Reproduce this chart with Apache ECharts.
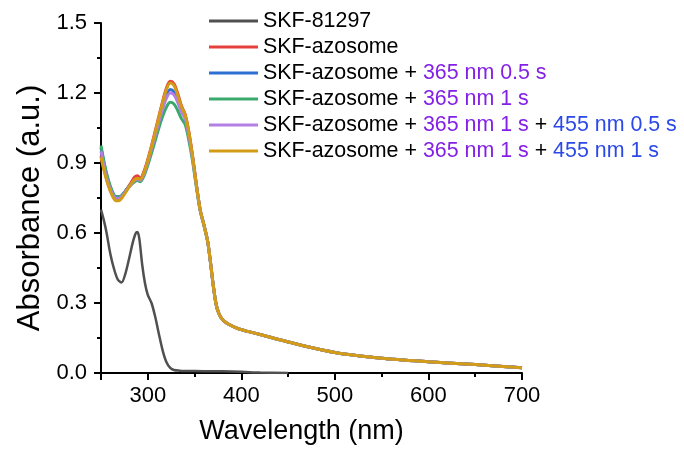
<!DOCTYPE html>
<html>
<head>
<meta charset="utf-8">
<script src="https://cdn.jsdelivr.net/npm/echarts@6/dist/echarts.min.js"></script>
<style>
  html, body { margin: 0; padding: 0; background: #fff; }
  #chart { width: 684px; height: 450px; }
</style>
</head>
<body>
<div id="chart"></div>
<script>
// UV-Vis absorbance spectra (wavelength in nm)
const wlDrug = [250, 253, 256, 260, 264, 268, 272, 276, 280, 284, 287, 289, 291, 294, 297, 300, 304, 308, 312, 316, 320, 324, 328, 334, 340, 360, 380, 400, 420, 450];
const absDrug = [0.70, 0.655, 0.60, 0.51, 0.445, 0.40, 0.388, 0.425, 0.49, 0.56, 0.598, 0.604, 0.575, 0.465, 0.385, 0.335, 0.30, 0.24, 0.165, 0.095, 0.046, 0.022, 0.013, 0.010, 0.009, 0.008, 0.007, 0.005, 0.002, 0.0];

const wlAzo = [250, 254, 258, 262, 266, 270, 274, 278, 282, 286, 289, 292, 296, 300, 305, 310, 315, 320, 324, 328, 332, 336, 340, 344, 348, 352, 356, 360, 364, 367, 370, 373, 376, 380, 385, 390, 400, 420, 450, 500, 550, 600, 650, 700];

const absAzo = [0.93, 0.86, 0.805, 0.765, 0.745, 0.745, 0.765, 0.79, 0.815, 0.84, 0.845, 0.835, 0.865, 0.915, 0.99, 1.07, 1.15, 1.222, 1.25, 1.24, 1.198, 1.145, 1.108, 1.032, 0.927, 0.806, 0.70, 0.635, 0.565, 0.475, 0.375, 0.295, 0.255, 0.228, 0.212, 0.202, 0.186, 0.165, 0.133, 0.088, 0.063, 0.048, 0.036, 0.022];

const absUv05 = [0.965, 0.885, 0.82, 0.775, 0.755, 0.755, 0.77, 0.79, 0.81, 0.825, 0.83, 0.825, 0.855, 0.905, 0.975, 1.05, 1.125, 1.19, 1.215, 1.205, 1.17, 1.125, 1.095, 1.02, 0.92, 0.805, 0.70, 0.635, 0.565, 0.475, 0.375, 0.295, 0.255, 0.228, 0.212, 0.202, 0.186, 0.165, 0.133, 0.088, 0.063, 0.048, 0.036, 0.022];

const absUv1 = [0.975, 0.89, 0.825, 0.78, 0.755, 0.755, 0.768, 0.788, 0.806, 0.82, 0.825, 0.82, 0.845, 0.89, 0.955, 1.025, 1.09, 1.14, 1.16, 1.153, 1.125, 1.09, 1.065, 0.995, 0.905, 0.795, 0.695, 0.633, 0.563, 0.474, 0.375, 0.295, 0.255, 0.228, 0.212, 0.202, 0.186, 0.165, 0.133, 0.088, 0.063, 0.048, 0.036, 0.022];

const absVis05 = [0.95, 0.87, 0.81, 0.77, 0.748, 0.75, 0.765, 0.787, 0.808, 0.826, 0.83, 0.826, 0.855, 0.903, 0.975, 1.048, 1.12, 1.178, 1.20, 1.192, 1.16, 1.118, 1.09, 1.015, 0.917, 0.803, 0.70, 0.635, 0.565, 0.475, 0.375, 0.295, 0.255, 0.228, 0.212, 0.202, 0.186, 0.165, 0.133, 0.088, 0.063, 0.048, 0.036, 0.022];

const absVis1 = [0.925, 0.855, 0.80, 0.76, 0.738, 0.74, 0.76, 0.785, 0.81, 0.83, 0.835, 0.83, 0.86, 0.91, 0.985, 1.065, 1.145, 1.215, 1.243, 1.232, 1.19, 1.14, 1.105, 1.03, 0.925, 0.805, 0.70, 0.635, 0.565, 0.475, 0.375, 0.295, 0.255, 0.228, 0.212, 0.202, 0.186, 0.165, 0.133, 0.088, 0.063, 0.048, 0.036, 0.022];

const seriesNames = [
  'SKF-81297',
  'SKF-azosome',
  'SKF-azosome + 365 nm 0.5 s',
  'SKF-azosome + 365 nm 1 s',
  'SKF-azosome + 365 nm 1 s + 455 nm 0.5 s',
  'SKF-azosome + 365 nm 1 s + 455 nm 1 s'
];
const seriesColors = ['#505050', '#e5403c', '#2e6fd4', '#3aa96c', '#b47fe4', '#d39c17'];

const FONT = '"Liberation Sans", Arial, Helvetica, sans-serif';

function pairs(xs, ys) {
  return xs.map((x, i) => [x, ys[i]]);
}

// legend labels: light doses in purple (365 nm) and blue (455 nm)
const LEG_FS = 21.4;
const legendRich = {
  k: { color: '#000000', fontSize: LEG_FS, fontFamily: FONT, lineHeight: 22 },
  p: { color: '#8420e6', fontSize: LEG_FS, fontFamily: FONT, lineHeight: 22 },
  b: { color: '#2b48e8', fontSize: LEG_FS, fontFamily: FONT, lineHeight: 22 }
};
function legendLabel(name) {
  const m = name.match(/^(.*?)( \+ )?(365 nm [^+]*?)?( \+ )?(455 nm .*)?$/);
  if (!m || !m[3]) return '{k|' + name + '}';
  let s = '{k|' + m[1] + ' + }{p|' + m[3] + '}';
  if (m[5]) s += '{k| + }{b|' + m[5] + '}';
  return s;
}

const ySets = [absDrug, absAzo, absUv05, absUv1, absVis05, absVis1];
const series = seriesNames.map((name, i) => ({
  name: name,
  type: 'line',
  xAxisIndex: 0,
  data: pairs(i === 0 ? wlDrug : wlAzo, ySets[i]),
  showSymbol: false,
  symbol: 'none',
  smooth: 0.3,
  lineStyle: { width: i === 0 ? 2.5 : 3, color: seriesColors[i] },
  itemStyle: { color: seriesColors[i] },
  animation: false
}));

const chart = echarts.init(document.getElementById('chart'), null, { renderer: 'canvas' });
chart.setOption({
  backgroundColor: '#ffffff',
  animation: false,
  grid: { left: 101, right: 162, top: 23, bottom: 76.5, containLabel: false },
  legend: {
    orient: 'vertical',
    left: 209,
    top: 10,
    padding: 0,
    itemGap: 4,
    itemWidth: 49,
    itemHeight: 3,
    icon: 'rect',
    data: seriesNames,
    formatter: legendLabel,
    textStyle: { fontSize: LEG_FS, fontFamily: FONT, color: '#000', lineHeight: 22, rich: legendRich }
  },
  xAxis: [
    {
      type: 'value',
      min: 250,
      max: 700,
      interval: 50,
      position: 'bottom',
      name: 'Wavelength (nm)',
      nameLocation: 'middle',
      nameGap: 45,
      nameTextStyle: { fontSize: 27, fontFamily: FONT, color: '#000', padding: [0, 20, 0, 0] },
      axisLine: { show: true, lineStyle: { color: '#000', width: 2 } },
      axisTick: { show: true, inside: false, length: 4, lineStyle: { color: '#000', width: 2 } },
      axisLabel: {
        show: true,
        margin: 12,
        fontSize: 22,
        fontFamily: FONT,
        color: '#000',
        formatter: v => (v % 100 === 0 ? String(v) : '')
      },
      splitLine: { show: false }
    },
    {
      type: 'value',
      min: 250,
      max: 700,
      position: 'bottom',
      axisLine: { show: false },
      axisTick: { show: true, inside: false, length: 7, lineStyle: { color: '#000', width: 2 } },
      axisLabel: { show: false },
      splitLine: { show: false }
    }
  ],
  yAxis: {
    type: 'value',
    min: 0,
    max: 1.5,
    interval: 0.3,
    name: 'Absorbance (a.u.)',
    nameLocation: 'middle',
    nameGap: 55,
    nameTextStyle: { fontSize: 31, fontFamily: FONT, color: '#000', padding: [0, 20, 0, 0] },
    axisLine: { show: true, lineStyle: { color: '#000', width: 2 } },
    axisTick: { show: true, inside: false, length: 7, lineStyle: { color: '#000', width: 2 } },
    minorTick: { show: true, splitNumber: 2, length: 4, lineStyle: { color: '#000', width: 2 } },
    axisLabel: {
      margin: 14,
      fontSize: 22,
      fontFamily: FONT,
      color: '#000',
      formatter: v => v.toFixed(1)
    },
    splitLine: { show: false }
  },
  series: series
});
</script>
</body>
</html>
